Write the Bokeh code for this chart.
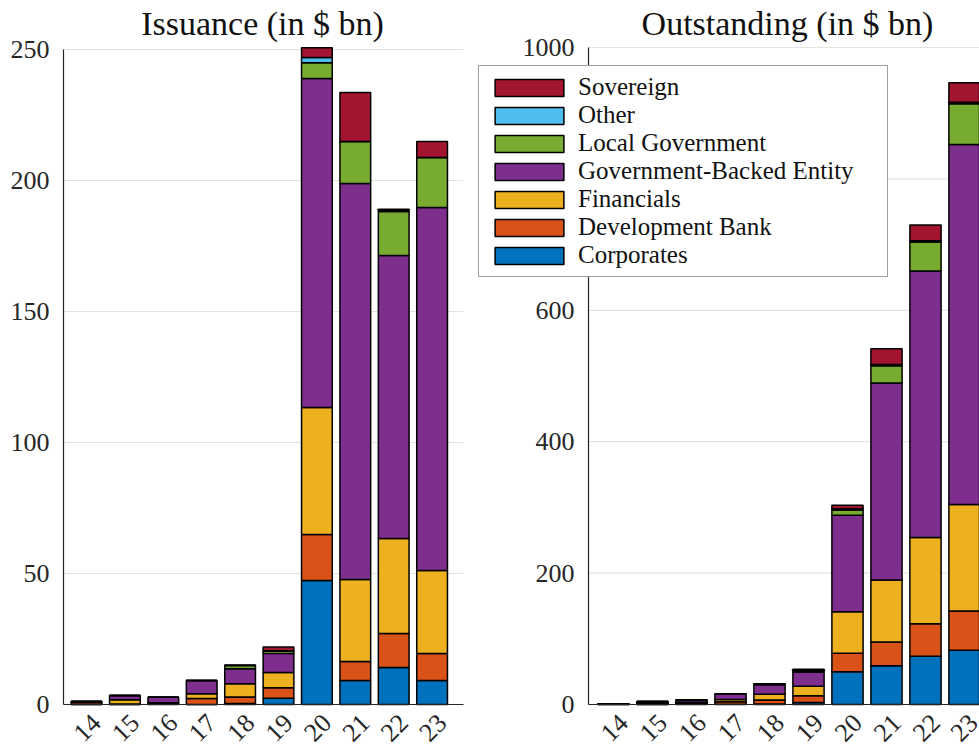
from bokeh.plotting import figure
from bokeh.models import (ColumnDataSource, Range1d, FixedTicker, Legend, LegendItem, Label)
from bokeh.layouts import row
from bokeh.embed import file_html
from bokeh.resources import INLINE

years = ["14", "15", "16", "17", "18", "19", "20", "21", "22", "23"]
categories = ["Corporates", "Development Bank", "Financials", "Government-Backed Entity",
              "Local Government", "Other", "Sovereign"]
colors = ["#0072BD", "#D95319", "#EDB120", "#7E2F8E", "#77AC30", "#4DBEEE", "#A2142F"]

# Issuance (in $ bn)
iss_corporates = [0.0, 0.0, 0.3, 0.0, 0.4, 2.4, 47.3, 9.2, 14.1, 9.2]
iss_development = [0.8, 0.2, 0.4, 2.3, 2.5, 4.0, 17.6, 7.2, 13.0, 10.3]
iss_financials = [0.3, 1.6, 0.0, 1.8, 5.0, 5.8, 48.5, 31.3, 36.3, 31.6]
iss_gbe = [0.0, 1.6, 2.1, 5.1, 5.7, 7.3, 125.5, 151.2, 108.0, 138.6]
iss_local = [0.0, 0.0, 0.0, 0.0, 1.3, 0.9, 6.0, 16.0, 16.8, 19.1]
iss_other = [0.0, 0.0, 0.0, 0.0, 0.0, 0.1, 2.0, 0.0, 0.3, 0.0]
iss_sovereign = [0.0, 0.0, 0.0, 0.0, 0.2, 1.4, 3.8, 18.7, 0.5, 6.1]

# Outstanding (in $ bn)
out_corporates = [0.0, 0.0, 0.3, 0.3, 0.7, 3.1, 50.0, 59.0, 73.5, 82.5]
out_development = [0.8, 1.0, 1.4, 3.7, 6.2, 10.2, 28.0, 36.0, 49.5, 60.0]
out_financials = [0.3, 1.9, 1.9, 3.7, 8.7, 14.5, 63.0, 94.5, 131.0, 162.0]
out_gbe = [0.0, 1.6, 3.7, 8.8, 14.5, 21.8, 147.0, 300.0, 406.0, 548.0]
out_local = [0.0, 0.0, 0.0, 0.0, 1.3, 2.2, 8.0, 26.0, 44.0, 62.0]
out_other = [0.0, 0.0, 0.0, 0.0, 0.0, 0.1, 2.0, 2.0, 2.0, 2.0]
out_sovereign = [0.0, 0.0, 0.0, 0.0, 0.2, 1.6, 5.4, 24.0, 24.0, 30.0]

iss_ticks = [0, 50, 100, 150, 200, 250]
out_ticks = [0, 200, 400, 600, 800, 1000]

FONT = "Liberation Serif"
TXT = "#262626"
GRID = "#e3e3e3"
HEIGHT = 746
LABEL_SHIFT = 0.26  # MATLAB anchors rotated labels slightly right of the bar centre


def make_source(series):
    data = {"x": list(range(len(years)))}
    for name, vals in zip(categories, series):
        data[name] = vals
    return ColumnDataSource(data)


def make_fig(title, title_x, series, yticks, width, x_range, y_range, axis_x, x_bound):
    """Frame covers the whole canvas; axes sit at fixed data locations inside it."""
    p = figure(width=width, height=HEIGHT, output_backend="svg", toolbar_location=None,
               x_range=Range1d(*x_range), y_range=Range1d(*y_range), min_border=0)
    p.outline_line_color = None
    p.background_fill_color = "white"
    p.border_fill_color = "white"
    p.xgrid.grid_line_color = None
    p.ygrid.grid_line_color = None

    # horizontal grid lines, from the y axis to the end of the x axis
    n = len(yticks) - 1
    p.segment(x0=[axis_x] * n, x1=[x_bound] * n, y0=yticks[1:], y1=yticks[1:],
              line_color=GRID, line_width=1.2, level="underlay")

    src = make_source(series)
    renderers = p.vbar_stack(categories, x="x", width=0.8, color=colors, source=src,
                             line_color="black", line_width=1.5)

    # axis rules
    p.segment(x0=[axis_x], x1=[axis_x], y0=[yticks[0]], y1=[yticks[-1]],
              line_color=TXT, line_width=1.2, level="guide")
    p.segment(x0=[axis_x], x1=[x_bound], y0=[yticks[0]], y1=[yticks[0]],
              line_color=TXT, line_width=1.2, level="guide")

    # x axis on a range shifted so that rotated labels sit like the original
    p.extra_x_ranges = {"lab": Range1d(x_range[0] - LABEL_SHIFT, x_range[1] - LABEL_SHIFT)}
    xa = p.xaxis[0]
    xa.x_range_name = "lab"
    xa.fixed_location = yticks[0]
    xa.ticker = FixedTicker(ticks=list(range(len(years))))
    xa.major_label_overrides = {i: y for i, y in enumerate(years)}
    xa.major_label_orientation = 0.785398
    xa.major_label_standoff = 14

    ya = p.yaxis[0]
    ya.fixed_location = axis_x
    ya.ticker = FixedTicker(ticks=yticks)
    ya.major_label_standoff = 14

    for ax in (xa, ya):
        ax.major_label_text_font = FONT
        ax.major_label_text_font_size = "26px"
        ax.major_label_text_color = TXT
        ax.axis_line_color = None
        ax.major_tick_out = 0
        ax.major_tick_in = 0
        ax.minor_tick_out = 0
        ax.minor_tick_in = 0

    p.add_layout(Label(x=title_x, y=HEIGHT - 23, x_units="screen", y_units="screen",
                       text=title, text_font=FONT, text_font_size="34px",
                       text_color="#111111", text_align="center",
                       text_baseline="alphabetic"))
    return p, renderers


# left panel: canvas 0..470 px, bars 38.4 px apart
p1, r1 = make_fig("Issuance (in $ bn)", 262,
                  [iss_corporates, iss_development, iss_financials, iss_gbe,
                   iss_local, iss_other, iss_sovereign],
                  iss_ticks, 470, (-2.2396, 10.0), (-16.03, 268.70), -0.599, 9.818)

# right panel: canvas 470..979 px, bars 39 px apart
p2, r2 = make_fig("Outstanding (in $ bn)", 317,
                  [out_corporates, out_development, out_financials, out_gbe,
                   out_local, out_other, out_sovereign],
                  out_ticks, 509, (-3.667, 9.385), (-63.93, 1071.54), -0.641, 9.385)

items = [LegendItem(label=c, renderers=[r]) for c, r in zip(categories, r2)][::-1]
legend = Legend(items=items, location=(8, 469),
                glyph_width=86, glyph_height=21, label_standoff=6, label_width=302,
                spacing=0, padding=7, margin=0,
                label_text_font=FONT, label_text_font_size="25px", label_text_color="#111111",
                border_line_color="#404040", border_line_width=1.2,
                background_fill_color="white", background_fill_alpha=1.0)
p2.add_layout(legend, "center")

layout = row(p1, p2)
open("out.html", "w").write(file_html(layout, INLINE))
